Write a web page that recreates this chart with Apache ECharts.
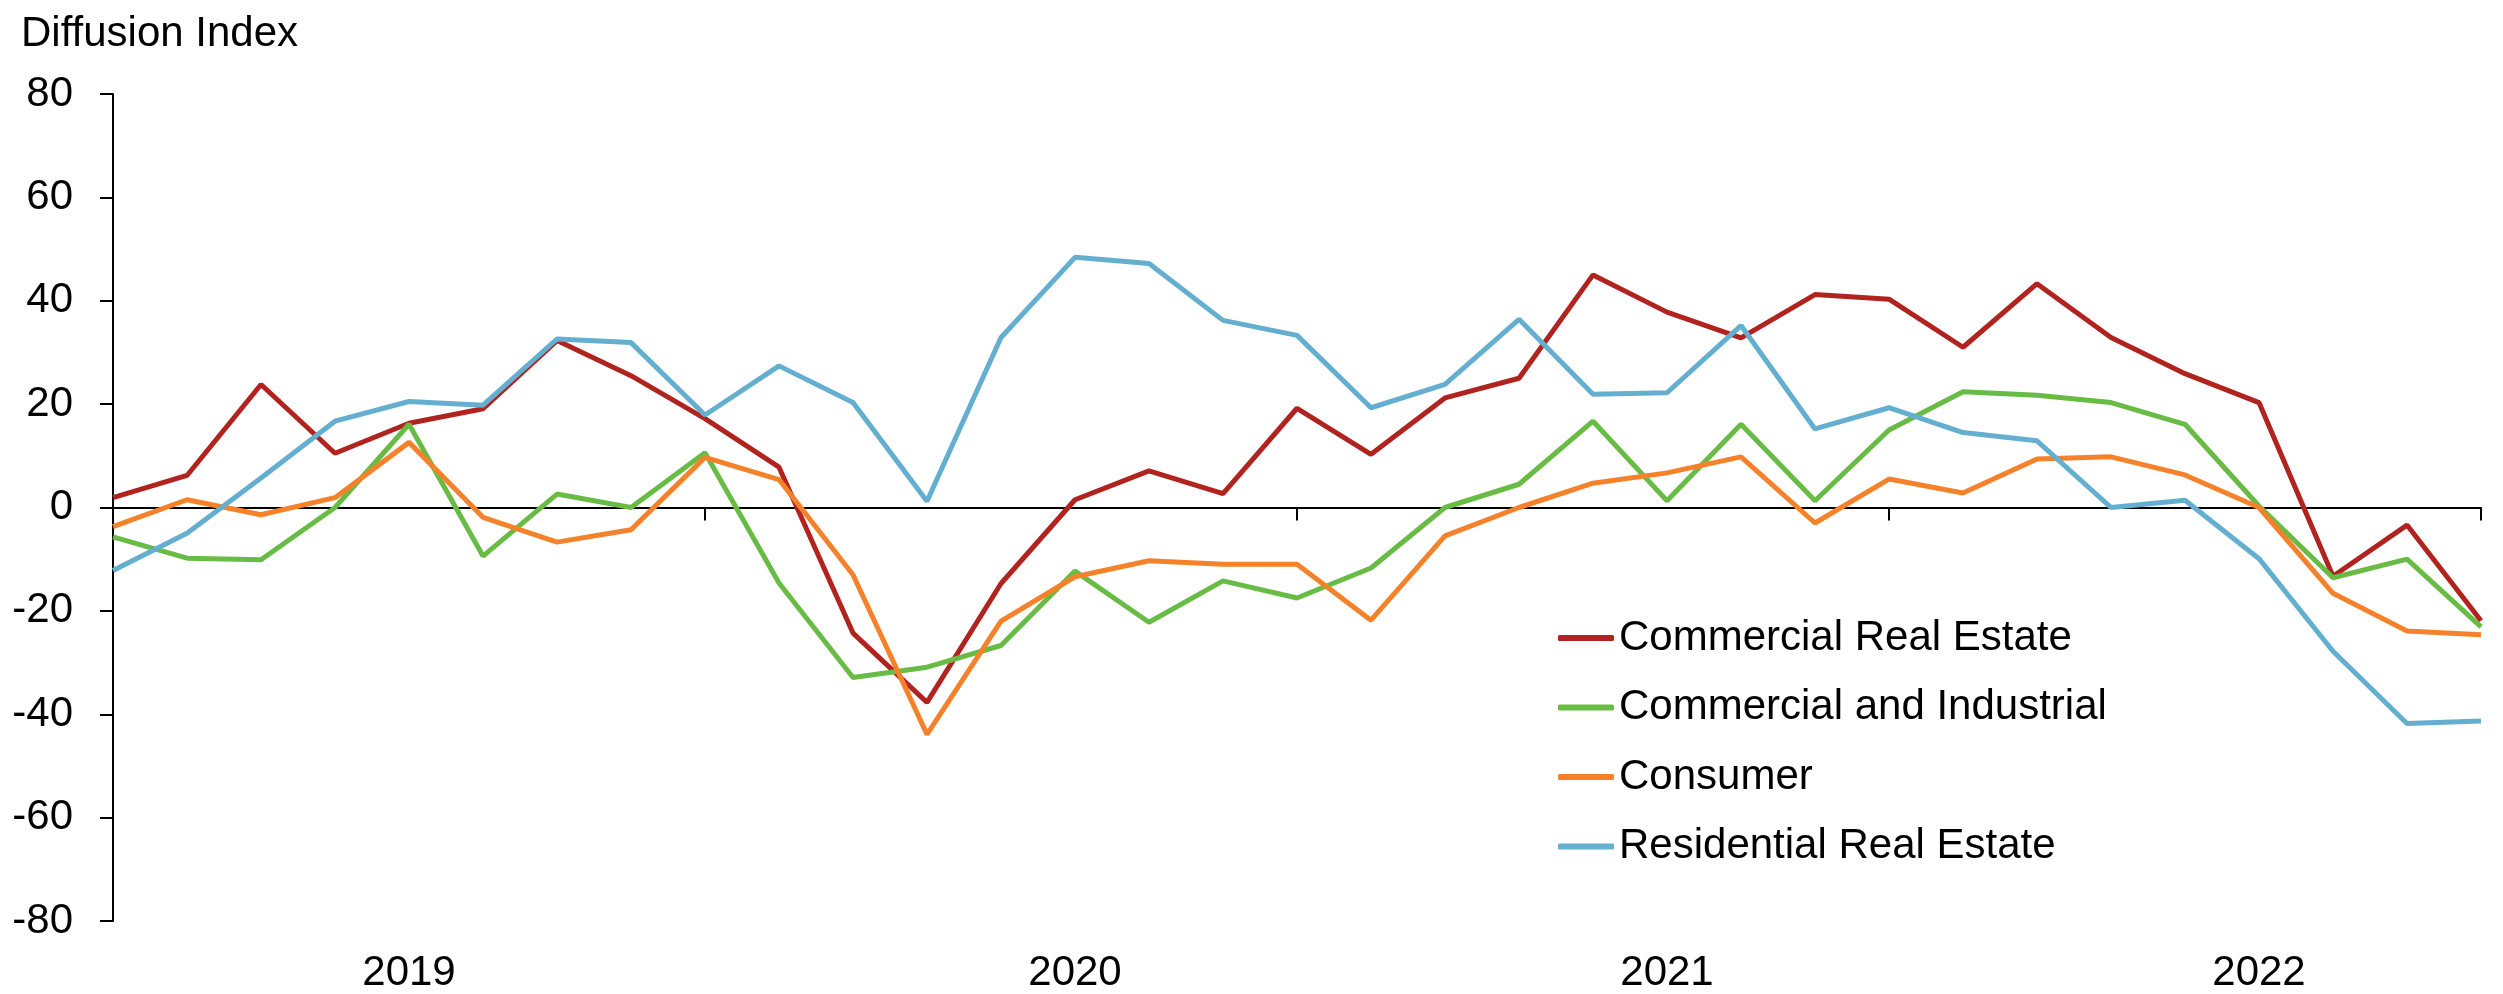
<!DOCTYPE html>
<html>
<head>
<meta charset="utf-8">
<script src="https://cdn.jsdelivr.net/npm/echarts@6/dist/echarts.min.js"></script>
<style>
  html, body { margin: 0; padding: 0; background: #fff; }
  #chart { width: 2503px; height: 994px; }
</style>
</head>
<body>
<div id="chart"></div>
<script>
// survey periods, 8 per year
const periods = [
  '2019-1', '2019-2', '2019-3', '2019-4', '2019-5', '2019-6', '2019-7', '2019-8',
  '2020-1', '2020-2', '2020-3', '2020-4', '2020-5', '2020-6', '2020-7', '2020-8',
  '2021-1', '2021-2', '2021-3', '2021-4', '2021-5', '2021-6', '2021-7', '2021-8',
  '2022-1', '2022-2', '2022-3', '2022-4', '2022-5', '2022-6', '2022-7', '2022-8',
  '2023-1'
]
// where the year labels sit on the axis
const yearLabelAt = ['2019-5', '2020-6', '2021-6', '2022-6']
const yearLabels = ['2019', '2020', '2021', '2022']
// year boundaries (tick marks)
const yearTicks = ['2019-1', '2020-1', '2021-1', '2022-1', '2023-1']

const commercialRealEstate = [
  1.9, 6.2, 23.8, 10.5, 16.3, 19.1, 32.3, 25.5, 17.2, 7.8, -24.3, -37.7, -14.7, 1.5, 7.1, 2.7,
  19.2, 10.3, 21.2, 25.0, 45.0, 37.8, 32.8, 41.2, 40.3, 31.0, 43.3, 32.9, 25.9, 20.3, -13.3, -3.4, -21.9
]
const commercialIndustrial = [
  -5.7, -9.8, -10.1, 0, 16.1, -9.4, 2.6, 0, 10.6, -14.6, -32.9, -30.9, -26.7, -12.3, -22.2, -14.2,
  -17.5, -11.7, 0, 4.5, 16.7, 1.3, 16.1, 1.3, 15.0, 22.4, 21.7, 20.3, 16.1, 0.3, -13.6, -10.0, -23.1
]
const consumer = [
  -3.7, 1.5, -1.4, 1.9, 12.6, -1.9, -6.7, -4.3, 9.7, 5.4, -13.0, -43.9, -22.0, -13.4, -10.3, -11.0,
  -11.0, -21.8, -5.5, 0, 4.7, 6.7, 9.8, -3.0, 5.5, 2.8, 9.4, 9.8, 6.3, 0, -16.6, -23.9, -24.6
]
const residentialRealEstate = [
  -12.2, -5.0, 5.7, 16.7, 20.5, 19.8, 32.6, 31.9, 17.9, 27.4, 20.3, 1.2, 32.9, 48.4, 47.2, 36.2,
  33.3, 19.3, 23.8, 36.4, 21.9, 22.2, 35.2, 15.2, 19.3, 14.5, 12.9, 0, 1.4, -9.9, -27.8, -41.8, -41.3
]

const FONT = '"Liberation Sans", Arial, sans-serif'

const chart = echarts.init(document.getElementById('chart'))

const mkLine = (name, data, color) => ({
  name,
  type: 'line',
  data,
  xAxisIndex: 0,
  symbol: 'none',
  lineStyle: { color, width: 5 },
  itemStyle: { color },
  animation: false
})

chart.setOption({
  backgroundColor: '#fff',
  animation: false,
  title: {
    text: 'Diffusion Index',
    left: 21,
    top: 13,
    padding: 0,
    textStyle: { fontFamily: FONT, fontSize: 42, fontWeight: 'normal', color: '#000' }
  },
  legend: {
    orient: 'vertical',
    left: 1558,
    top: 617,
    padding: 0,
    icon: 'roundRect',
    itemWidth: 56,
    itemHeight: 6,
    itemGap: 27.5,
    textStyle: { fontFamily: FONT, fontSize: 42, color: '#000' },
    data: ['Commercial Real Estate', 'Commercial and Industrial', 'Consumer', 'Residential Real Estate']
  },
  grid: { left: 113, right: 22, top: 94, bottom: 71.5 },
  xAxis: [
    {
      type: 'category',
      data: periods,
      boundaryGap: false,
      axisLine: { onZero: true, lineStyle: { color: '#000', width: 2 } },
      axisTick: {
        show: true,
        length: 13,
        lineStyle: { color: '#000', width: 2 },
        interval: (i, v) => yearTicks.includes(v)
      },
      axisLabel: { show: false },
      splitLine: { show: false }
    },
    {
      type: 'category',
      data: periods,
      position: 'bottom',
      boundaryGap: false,
      axisLine: { show: false, onZero: false },
      axisTick: { show: false },
      axisLabel: {
        margin: 31,
        fontFamily: FONT,
        fontSize: 42,
        color: '#000',
        interval: (i, v) => yearLabelAt.includes(v),
        formatter: v => yearLabels[yearLabelAt.indexOf(v)] || ''
      },
      splitLine: { show: false }
    }
  ],
  yAxis: {
    type: 'value',
    min: -80,
    max: 80,
    interval: 20,
    axisLine: { show: true, onZero: false, lineStyle: { color: '#000', width: 2 } },
    axisTick: { show: true, length: 13, lineStyle: { color: '#000', width: 2 } },
    axisLabel: { margin: 40, fontFamily: FONT, fontSize: 42, color: '#000' },
    splitLine: { show: false }
  },
  series: [
    mkLine('Commercial Real Estate', commercialRealEstate, '#B0231F'),
    mkLine('Commercial and Industrial', commercialIndustrial, '#68BC45'),
    mkLine('Consumer', consumer, '#F5822A'),
    mkLine('Residential Real Estate', residentialRealEstate, '#64AECF')
  ]
})
</script>
</body>
</html>
